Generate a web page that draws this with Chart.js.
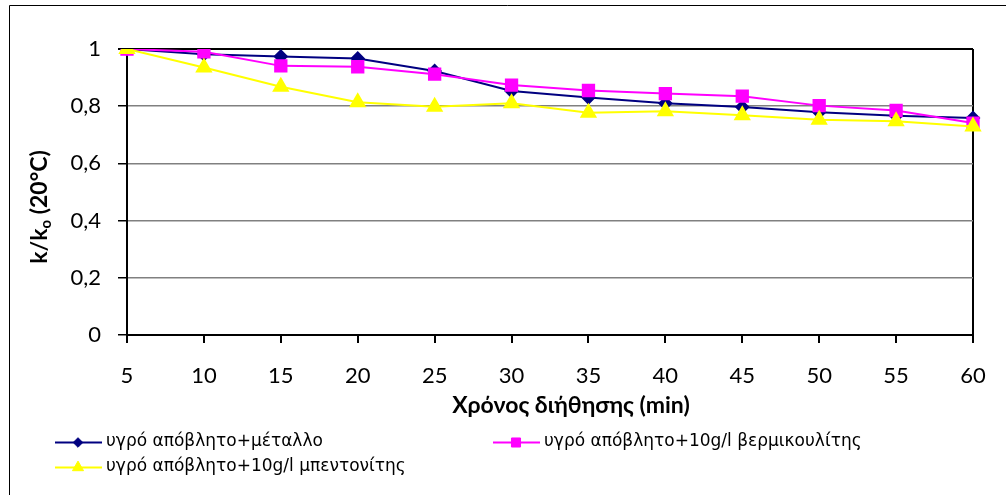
<!DOCTYPE html>
<html>
<head>
<meta charset="utf-8">
<script src="https://cdn.jsdelivr.net/npm/chart.js@4"></script>
<style>
  body { margin: 0; background: #fff; }
  #wrap { width: 1006px; height: 495px; }
</style>
</head>
<body>
<div id="wrap"><canvas id="chart" width="1006" height="495"></canvas></div>
<script>
// filtration time (min)
const times = ['5', '10', '15', '20', '25', '30', '35', '40', '45', '50', '55', '60'];
const yTicks = [0, 0.2, 0.4, 0.6, 0.8, 1];

const metalLabel = 'υγρό απόβλητο+μέταλλο';
const vermiculiteLabel = 'υγρό απόβλητο+10g/l βερμικουλίτης';
const bentoniteLabel = 'υγρό απόβλητο+10g/l μπεντονίτης';

const metal = [1, 0.982, 0.974, 0.967, 0.923, 0.853, 0.830, 0.810, 0.797, 0.779, 0.767, 0.759];
const vermiculite = [1, 0.990, 0.941, 0.938, 0.912, 0.874, 0.855, 0.844, 0.835, 0.802, 0.785, 0.741];
const bentonite = [1, 0.935, 0.868, 0.814, 0.798, 0.810, 0.777, 0.782, 0.768, 0.753, 0.747, 0.729];

const tickFont = { family: 'Lato', size: 22 };

// frame, axis titles and legend are painted by hand
const extras = {
  id: 'extras',
  afterDraw(chart) {
    const ctx = chart.ctx;
    ctx.save();
    ctx.strokeStyle = '#000';
    ctx.lineWidth = 1;
    ctx.beginPath();
    ctx.moveTo(9.5, 495);
    ctx.lineTo(9.5, 5.5);
    ctx.lineTo(1006, 5.5);
    ctx.stroke();

    // x title
    ctx.fillStyle = '#000';
    ctx.font = 'bold 23px Lato';
    ctx.textAlign = 'center';
    ctx.textBaseline = 'middle';
    ctx.fillText('Χρόνος διήθησης (min)', 571, 406);

    // y title with subscript
    ctx.translate(40, 207);
    ctx.rotate(-Math.PI / 2);
    const big = 'bold 23px Lato';
    const small = 'bold 15px Lato';
    const parts = [['k/k', big, 0], ['o', small, 6], [' (20°C)', big, 0]];
    let total = 0;
    parts.forEach(p => { ctx.font = p[1]; total += ctx.measureText(p[0]).width; });
    let x = -total / 2;
    ctx.textAlign = 'left';
    parts.forEach(p => {
      ctx.font = p[1];
      ctx.fillText(p[0], x, p[2]);
      x += ctx.measureText(p[0]).width;
    });
    ctx.restore();

    // legend
    const items = [
      { ds: 0, x: 55, y: 442 },
      { ds: 1, x: 493, y: 442 },
      { ds: 2, x: 55, y: 467 }
    ];
    ctx.save();
    items.forEach(it => {
      const ds = chart.data.datasets[it.ds];
      ctx.strokeStyle = ds.borderColor;
      ctx.lineWidth = 2;
      ctx.beginPath();
      ctx.moveTo(it.x, it.y + 0.5);
      ctx.lineTo(it.x + 47, it.y + 0.5);
      ctx.stroke();
      ctx.fillStyle = ds.pointBackgroundColor;
      ctx.strokeStyle = ds.pointBorderColor;
      ctx.lineWidth = 1;
      Chart.helpers.drawPoint(ctx, {
        pointStyle: ds.pointStyle,
        radius: ds.pointRadius * 0.8,
        borderWidth: 1
      }, it.x + 23, it.y + 0.5);
      ctx.fillStyle = '#000';
      ctx.font = '17px "DejaVu Sans"';
      ctx.textAlign = 'left';
      ctx.textBaseline = 'middle';
      ctx.fillText(ds.label, it.x + 51, it.y);
    });
    ctx.restore();
  }
};

new Chart(document.getElementById('chart'), {
  type: 'line',
  data: {
    labels: times,
    datasets: [
      {
        label: metalLabel,
        data: metal,
        borderColor: '#000080',
        backgroundColor: '#000080',
        pointBackgroundColor: '#000080',
        pointBorderColor: '#000080',
        pointStyle: 'rectRot',
        pointRadius: 6,
        borderWidth: 2,
        order: 2
      },
      {
        label: vermiculiteLabel,
        data: vermiculite,
        borderColor: '#ff00ff',
        backgroundColor: '#ff00ff',
        pointBackgroundColor: '#ff00ff',
        pointBorderColor: '#ff00ff',
        pointStyle: 'rect',
        pointRadius: 8,
        borderWidth: 2,
        order: 1
      },
      {
        label: bentoniteLabel,
        data: bentonite,
        borderColor: '#ffff00',
        backgroundColor: '#ffff00',
        pointBackgroundColor: '#ffff00',
        pointBorderColor: '#ffff00',
        pointStyle: 'triangle',
        pointRadius: 8,
        borderWidth: 2,
        order: 0
      }
    ]
  },
  options: {
    responsive: false,
    animation: false,
    layout: { padding: { top: 49, right: 33, left: 0, bottom: 0 } },
    plugins: {
      legend: { display: false },
      tooltip: { enabled: false }
    },
    scales: {
      x: {
        type: 'category',
        offset: false,
        afterFit: s => { s.height = 160; },
        border: { color: '#000', width: 2 },
        grid: {
          color: c => c.index === times.length - 1 ? '#000' : 'rgba(0,0,0,0)',
          lineWidth: 2,
          tickColor: '#000',
          tickLength: 8,
          drawOnChartArea: true
        },
        ticks: { color: '#000', font: tickFont, padding: 20, maxRotation: 0, autoSkip: false }
      },
      y: {
        min: 0,
        max: 1,
        afterFit: s => { s.width = 127; },
        afterBuildTicks: s => { s.ticks = yTicks.map(v => ({ value: v })); },
        border: { color: '#000', width: 2 },
        grid: {
          color: c => c.tick.value === 1 ? '#000' : (c.tick.value === 0 ? 'rgba(0,0,0,0)' : '#808080'),
          lineWidth: c => c.tick.value === 1 ? 2 : 1.5,
          tickColor: '#000',
          tickLength: 9
        },
        ticks: {
          color: '#000',
          font: tickFont,
          padding: 17,
          callback: v => String(v).replace('.', ',')
        }
      }
    }
  },
  plugins: [extras]
});
</script>
</body>
</html>
